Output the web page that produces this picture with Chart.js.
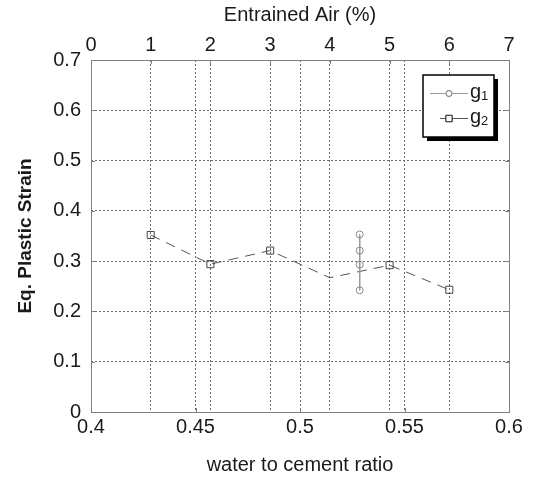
<!DOCTYPE html>
<html>
<head>
<meta charset="utf-8">
<script src="https://cdn.jsdelivr.net/npm/chart.js@4/dist/chart.umd.min.js"></script>
<style>
  html, body { margin: 0; padding: 0; background: #fff; }
  #wrap { width: 533px; height: 477px; }
</style>
</head>
<body>
<div id="wrap"><canvas id="chart" width="533" height="477"></canvas></div>
<script>
/* Eq. plastic strain vs entrained air / water-cement ratio */

// series data (x read on the top "Entrained Air (%)" axis)
const g1Air = [4.5, 4.5, 4.5, 4.5];
const g1Strain = [0.353, 0.321, 0.293, 0.242];
const g2Air = [1, 2, 3, 4, 5, 6];
const g2Strain = [0.352, 0.294, 0.321, 0.267, 0.292, 0.243];
const g2Marker = [true, true, true, false, true, true];

const seriesLabels = ['g1', 'g2'];

// axis ranges / ticks
const wcRange = [0.4, 0.6];
const airRange = [0, 7];
const strainRange = [0, 0.7];

const FONT = '"Liberation Sans", Arial, sans-serif';
const TEXT = '#1a1a1a';
const GRID = '#6a6a6a';

const toPoints = (xs, ys) => xs.map((x, i) => ({ x: x, y: ys[i] }));

const gridOpts = {
  color: GRID,
  lineWidth: 1,
  drawTicks: false,
};
// v4: dash of the grid lines lives under "border"
const borderOpts = { display: false, dash: [2, 2] };

// frame + inward tick marks, MATLAB style
const framePlugin = {
  id: 'frame',
  beforeDatasetsDraw(chart) {
    const { ctx, chartArea: a } = chart;
    ctx.save();
    ctx.strokeStyle = '#808080';
    ctx.lineWidth = 1;
    const tick = 4;
    ctx.beginPath();
    chart.scales.y.ticks.forEach(t => {
      const py = Math.round(chart.scales.y.getPixelForValue(t.value)) + 0.5;
      ctx.moveTo(a.left, py); ctx.lineTo(a.left + tick, py);
      ctx.moveTo(a.right, py); ctx.lineTo(a.right - tick, py);
    });
    chart.scales.x.ticks.forEach(t => {
      const px = Math.round(chart.scales.x.getPixelForValue(t.value)) + 0.5;
      ctx.moveTo(px, a.bottom); ctx.lineTo(px, a.bottom - tick);
    });
    chart.scales.x2.ticks.forEach(t => {
      const px = Math.round(chart.scales.x2.getPixelForValue(t.value)) + 0.5;
      ctx.moveTo(px, a.top); ctx.lineTo(px, a.top + tick);
    });
    ctx.stroke();
    ctx.strokeRect(Math.round(a.left) + 0.5, Math.round(a.top) + 0.5,
      Math.round(a.right - a.left), Math.round(a.bottom - a.top));
    ctx.restore();
  }
};

// boxed legend with drop shadow
const legendPlugin = {
  id: 'boxLegend',
  afterDraw(chart) {
    const { ctx } = chart;
    const bx = 423, by = 75, bw = 71, bh = 62, sh = 4;
    ctx.save();
    ctx.fillStyle = '#000';
    ctx.fillRect(bx + sh, by + sh, bw, bh);
    ctx.fillStyle = '#fff';
    ctx.fillRect(bx, by, bw, bh);
    ctx.strokeStyle = '#000';
    ctx.lineWidth = 1.5;
    ctx.strokeRect(bx, by, bw, bh);

    chart.data.datasets.forEach((ds, i) => {
      const ry = by + 18 + i * 25;
      const x0 = i === 0 ? 430 : 440, x1 = 468, mx = 449;
      ctx.strokeStyle = ds.borderColor;
      ctx.lineWidth = 1;
      ctx.setLineDash([]);
      ctx.beginPath();
      ctx.moveTo(x0, ry + 0.5); ctx.lineTo(x1, ry + 0.5);
      ctx.stroke();
      ctx.fillStyle = '#fff';
      Chart.helpers.drawPoint(ctx, {
        pointStyle: ds.pointStyle, radius: ds.legendRadius, borderWidth: 1
      }, mx, ry + 0.5);
      ctx.strokeStyle = ds.pointBorderColor;
      ctx.stroke();
      ctx.fillStyle = TEXT;
      ctx.textBaseline = 'middle';
      ctx.textAlign = 'left';
      ctx.font = '20px ' + FONT;
      ctx.fillText(ds.label.charAt(0), 470, ry - 1);
      const gw = ctx.measureText(ds.label.charAt(0)).width;
      ctx.font = '13px ' + FONT;
      ctx.fillText(ds.label.slice(1), 470 + gw, ry + 3);
    });
    ctx.restore();
  }
};

new Chart(document.getElementById('chart'), {
  type: 'scatter',
  data: {
    datasets: [
      {
        label: seriesLabels[0],
        data: toPoints(g1Air, g1Strain),
        xAxisID: 'x2',
        showLine: true,
        borderColor: '#9a9a9a',
        borderWidth: 1,
        pointStyle: 'circle',
        pointRadius: 3.5,
        legendRadius: 3,
        pointBorderColor: '#8a8a8a',
        pointBackgroundColor: 'rgba(255,255,255,0)',
        pointBorderWidth: 1,
      },
      {
        label: seriesLabels[1],
        data: toPoints(g2Air, g2Strain),
        xAxisID: 'x2',
        showLine: true,
        borderColor: '#555555',
        borderWidth: 1,
        borderDash: [10, 7],
        pointStyle: 'rect',
        pointRadius: g2Marker.map(m => m ? 5 : 0),
        legendRadius: 4.5,
        pointBorderColor: '#444444',
        pointBackgroundColor: 'rgba(255,255,255,0)',
        pointBorderWidth: 1,
      },
    ]
  },
  options: {
    responsive: false,
    animation: false,
    events: [],
    layout: { padding: { left: 0, right: 24, top: 0, bottom: 0 } },
    plugins: { legend: { display: false }, tooltip: { enabled: false } },
    scales: {
      x: {
        type: 'linear',
        position: 'bottom',
        min: wcRange[0], max: wcRange[1],
        afterFit: s => { s.height = 65; },
        border: borderOpts,
        grid: gridOpts,
        ticks: {
          stepSize: 0.05,
          padding: 3,
          color: TEXT,
          font: { family: FONT, size: 20 },
          maxRotation: 0,
          callback: v => String(+v.toFixed(2)),
        },
        title: {
          display: true,
          text: 'water to cement ratio',
          color: TEXT,
          font: { family: FONT, size: 20 },
          padding: { top: 0, bottom: 0 },
        },
      },
      x2: {
        type: 'linear',
        position: 'top',
        min: airRange[0], max: airRange[1],
        afterFit: s => { s.height = 60; },
        border: borderOpts,
        grid: gridOpts,
        ticks: {
          stepSize: 1,
          padding: 3,
          color: TEXT,
          font: { family: FONT, size: 20 },
          maxRotation: 0,
        },
        title: {
          display: true,
          text: 'Entrained Air (%)',
          color: TEXT,
          font: { family: FONT, size: 20 },
          padding: { top: 3, bottom: 0 },
        },
      },
      y: {
        type: 'linear',
        position: 'left',
        min: strainRange[0], max: strainRange[1],
        afterFit: s => { s.width = 91; },
        border: borderOpts,
        grid: gridOpts,
        ticks: {
          stepSize: 0.1,
          padding: 10,
          color: TEXT,
          font: { family: FONT, size: 20 },
          callback: v => String(+v.toFixed(1)),
        },
        title: {
          display: true,
          text: 'Eq. Plastic Strain',
          color: TEXT,
          font: { family: FONT, size: 19, weight: 'bold' },
          padding: { top: 14, bottom: 0 },
        },
      },
    }
  },
  plugins: [framePlugin, legendPlugin]
});
</script>
</body>
</html>
